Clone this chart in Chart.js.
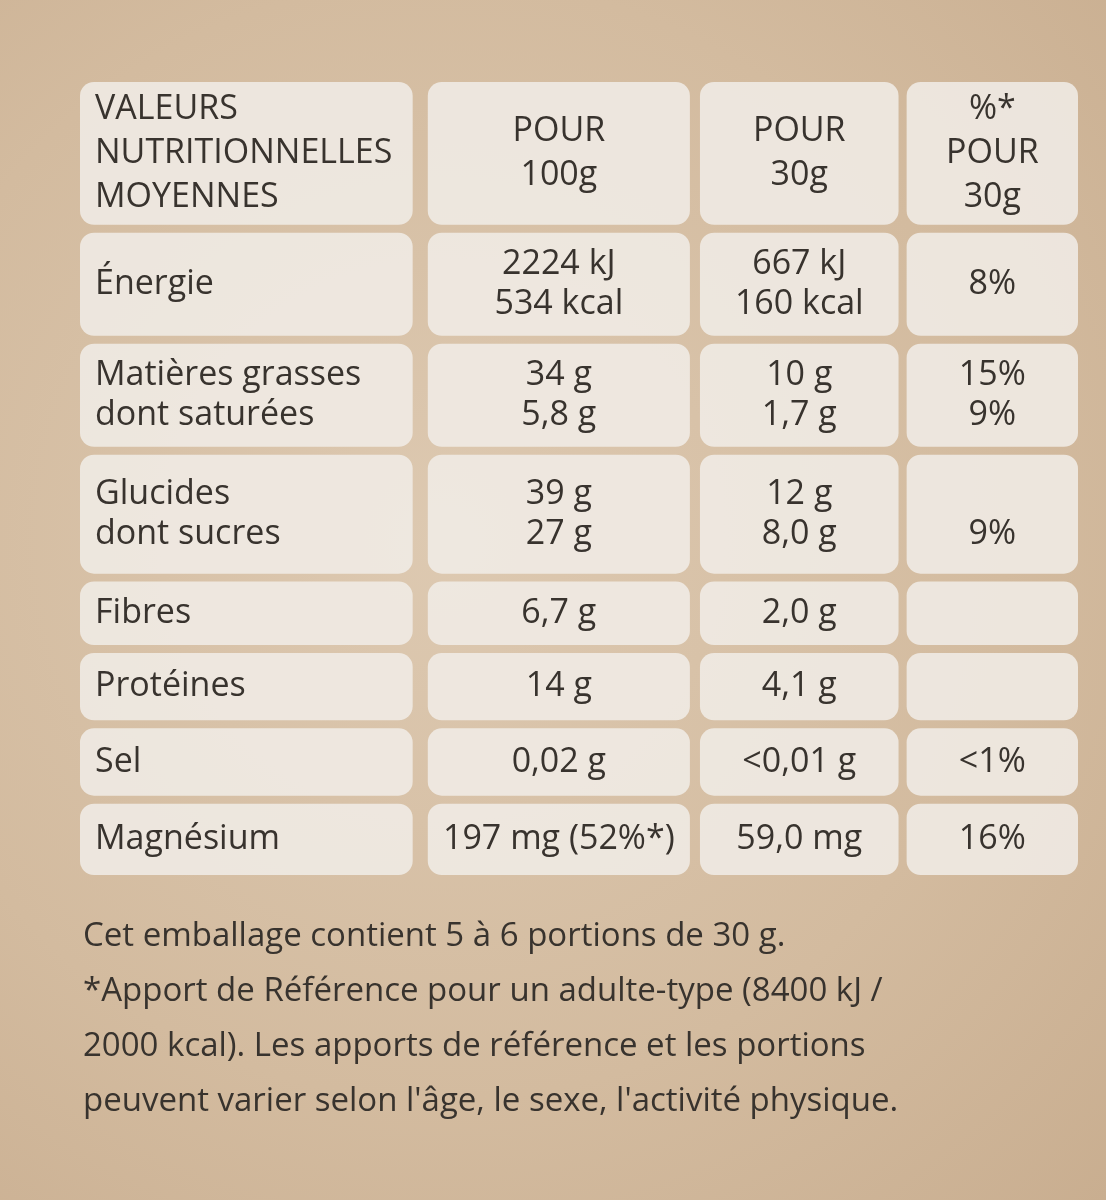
<!DOCTYPE html>
<html><head><meta charset="utf-8">
<script src="https://cdn.jsdelivr.net/npm/chart.js@4"></script>
<style>
html,body{margin:0;padding:0;background:#d4bea4;}
#wrap{width:1106px;height:1200px;background:radial-gradient(ellipse at 40% 45%,#ddc9b1 0%,#d3bb9f 60%,#c9ae90 100%);}
</style></head><body>
<div id="wrap"><canvas id="label" width="1106" height="1200"></canvas></div>
<script>
// Table content
const rowLabels = [
  ['VALEURS', 'NUTRITIONNELLES', 'MOYENNES'],
  ['Énergie'],
  ['Matières grasses', 'dont saturées'],
  ['Glucides', 'dont sucres'],
  ['Fibres'],
  ['Protéines'],
  ['Sel'],
  ['Magnésium']
];
const per100g = [
  ['POUR', '100g'],
  ['2224 kJ', '534 kcal'],
  ['34 g', '5,8 g'],
  ['39 g', '27 g'],
  ['6,7 g'],
  ['14 g'],
  ['0,02 g'],
  ['197 mg (52%*)']
];
const per30g = [
  ['POUR', '30g'],
  ['667 kJ', '160 kcal'],
  ['10 g', '1,7 g'],
  ['12 g', '8,0 g'],
  ['2,0 g'],
  ['4,1 g'],
  ['<0,01 g'],
  ['59,0 mg']
];
const pctRef = [
  ['%*', 'POUR', '30g'],
  ['8%'],
  ['15%', '9%'],
  ['', '9%'],
  [''],
  [''],
  ['<1%'],
  ['16%']
];
const rowLines = [3, 2, 2, 2.4, 1, 1.1, 1.1, 1.2];
const footerLines = [
  'Cet emballage contient 5 à 6 portions de 30 g.',
  '*Apport de Référence pour un adulte-type (8400 kJ /',
  '2000 kcal). Les apports de référence et les portions',
  'peuvent varier selon l\'âge, le sexe, l\'activité physique.'
];

const columns = [rowLabels, per100g, per30g, pctRef];
const colSpans = [[0, 3.3], [3.45, 6.05], [6.15, 8.12], [8.2, 9.9]];
const colAlign = ['left', 'center', 'center', 'center'];

// row extents in line units
const rowPad = 0.6, rowGap = 0.2;
const rowSpans = [];
let cursor = 0;
rowLines.forEach(n => {
  rowSpans.push([cursor, cursor + n + rowPad]);
  cursor += n + rowPad + rowGap;
});
const yMax = cursor - rowGap;

function roundRect(ctx, x, y, w, h, r) {
  ctx.beginPath();
  ctx.moveTo(x + r, y);
  ctx.arcTo(x + w, y, x + w, y + h, r);
  ctx.arcTo(x + w, y + h, x, y + h, r);
  ctx.arcTo(x, y + h, x, y, r);
  ctx.arcTo(x, y, x + w, y, r);
  ctx.closePath();
}

const tablePlugin = {
  id: 'table',
  afterDraw(chart) {
    const ctx = chart.ctx, xs = chart.scales.x, ys = chart.scales.y;
    ctx.save();
    columns.forEach((col, ci) => {
      col.forEach((lines, ri) => {
        const x0 = xs.getPixelForValue(colSpans[ci][0]);
        const x1 = xs.getPixelForValue(colSpans[ci][1]);
        const y0 = ys.getPixelForValue(rowSpans[ri][0]);
        const y1 = ys.getPixelForValue(rowSpans[ri][1]);
        ctx.fillStyle = 'rgba(240,236,230,0.88)';
        roundRect(ctx, x0, y0, x1 - x0, y1 - y0, 14);
        ctx.fill();
        const lh = ri === 0 ? 44 : 40;
        const mid = (y0 + y1) / 2;
        ctx.fillStyle = '#38332e';
        ctx.font = '500 34px "Open Sans", sans-serif';
        ctx.textBaseline = 'middle';
        ctx.textAlign = colAlign[ci];
        const tx = colAlign[ci] === 'left' ? x0 + 15 : (x0 + x1) / 2;
        lines.forEach((t, li) => {
          const ty = mid + (li - (lines.length - 1) / 2) * lh;
          ctx.fillText(t, tx, ty);
        });
      });
    });
    // footer note
    ctx.font = '500 33px "Open Sans", sans-serif';
    ctx.textAlign = 'left';
    ctx.fillStyle = '#38332e';
    footerLines.forEach((t, i) => {
      ctx.fillText(t, xs.getPixelForValue(0) + 3, chart.chartArea.bottom + 62 + i * 55);
    });
    ctx.restore();
  }
};

new Chart(document.getElementById('label'), {
  type: 'scatter',
  data: { datasets: [{ data: [], pointRadius: 0 }] },
  options: {
    responsive: false,
    animation: false,
    layout: { padding: { left: 80, right: 28, top: 82, bottom: 325 } },
    plugins: { legend: { display: false }, tooltip: { enabled: false } },
    scales: {
      x: { type: 'linear', min: 0, max: 9.9, display: false },
      y: { type: 'linear', min: 0, max: yMax, reverse: true, display: false }
    }
  },
  plugins: [tablePlugin]
});
</script>
</body></html>
